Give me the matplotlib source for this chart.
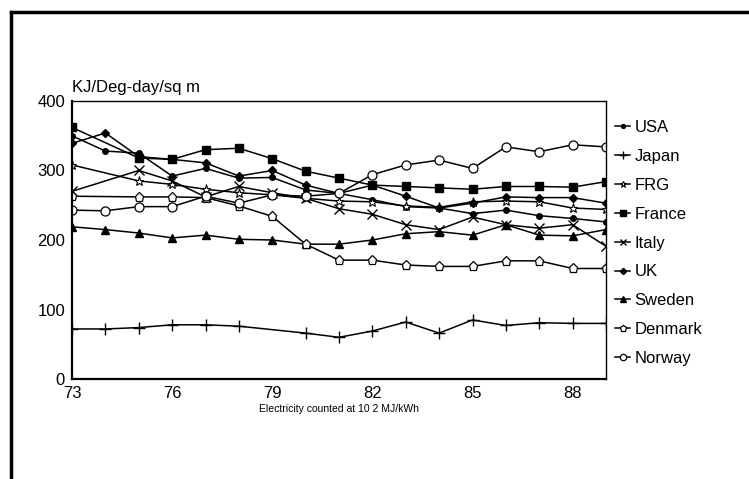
import matplotlib
matplotlib.use("Agg")
import matplotlib.pyplot as plt
from matplotlib.lines import Line2D
import numpy as np

plt.rcParams['font.family'] = ['Liberation Sans', 'DejaVu Sans']

years = list(range(73, 90))
year_ticks = [73, 76, 79, 82, 85, 88]
y_ticks = [0, 100, 200, 300, 400]

usa     = [350, 328, 325, 292, 303, 289, 290, 272, 267, 258, 248, 246, 238, 243, 235, 231, 226]
japan   = [72, 72, 74, 78, 78, 76, None, 66, 60, 69, 82, 66, 85, 77, 81, 80, 80]
frg     = [308, None, 285, 280, 273, 268, 265, 260, 256, 255, 249, 247, 255, 256, 255, 246, 244]
france  = [362, None, 318, 316, 330, 332, 317, 299, 289, 279, 277, 275, 273, 277, 277, 276, 284]
italy   = [270, None, 300, 285, 262, 277, 268, 260, 245, 237, 222, 215, 233, 222, 217, 222, 191]
uk      = [339, 354, 320, 316, 311, 292, 300, 279, 267, 279, 263, 246, 253, 262, 261, 261, 253]
sweden  = [219, 215, 210, 203, 207, 201, 200, 194, 194, 200, 209, 212, 207, 222, 207, 206, 215]
denmark = [263, None, 262, 262, 261, 249, 234, 194, 171, 171, 164, 162, 162, 170, 170, 159, 159]
norway  = [243, 242, 248, 248, 263, 253, 265, 263, 267, 294, 308, 315, 303, 334, 327, 337, 334]

series = [
    ("USA", usa, dict(marker='o', ms=4, mfc='black')),
    ("Japan", japan, dict(marker='+', ms=8, mew=1.0)),
    ("FRG", frg, dict(marker='*', ms=6.5, mfc='white', mew=0.8)),
    ("France", france, dict(marker='s', ms=5.5, mfc='black')),
    ("Italy", italy, dict(marker='x', ms=6.5, mew=1.0)),
    ("UK", uk, dict(marker='D', ms=4.5, mfc='black')),
    ("Sweden", sweden, dict(marker='^', ms=5.5, mfc='black')),
    ("Denmark", denmark, dict(marker='p', ms=6.5, mfc='white', mew=0.9)),
    ("Norway", norway, dict(marker='o', ms=6.5, mfc='white', mew=0.9)),
]

fig = plt.figure(figsize=(7.49, 4.79), dpi=100)
ax = fig.add_axes([72/749, 1-379/479, (606-72)/749, (379-101)/479])

handles = []
for name, vals, st in series:
    xs = [x for x, v in zip(years, vals) if v is not None]
    vs = [v for v in vals if v is not None]
    h, = ax.plot(xs, vs, color='black', lw=1.1, mec='black', label=name, **st)
    handles.append(h)

ax.set_xlim(73, 89)
ax.set_ylim(0, 400)
ax.set_xticks(year_ticks)
ax.set_yticks(y_ticks)
ax.tick_params(length=0, labelsize=12, pad=5)
for s in ['left', 'bottom']:
    ax.spines[s].set_linewidth(1.6)
for s in ['top', 'right']:
    ax.spines[s].set_linewidth(1.0)

ax.text(0, 1.02, "KJ/Deg-day/sq m", transform=ax.transAxes, fontsize=12,
        ha='left', va='bottom')
ax.set_xlabel("Electricity counted at 10 2 MJ/kWh", fontsize=7.5, labelpad=2)

leg = ax.legend(handles=handles, loc='upper left', bbox_to_anchor=(1.005, 0.955),
                frameon=False, fontsize=12, handlelength=0.9, handletextpad=0.25,
                labelspacing=0.83, borderaxespad=0, markerscale=0.7)

# outer frame
fig.add_artist(Line2D([11/749, 11/749], [0, 1-12/479], color='black', lw=2.5,
                      transform=fig.transFigure))
fig.add_artist(Line2D([11/749, 1], [1-12/479, 1-12/479], color='black', lw=2.5,
                      transform=fig.transFigure))

fig.savefig("out.png", dpi=100)
